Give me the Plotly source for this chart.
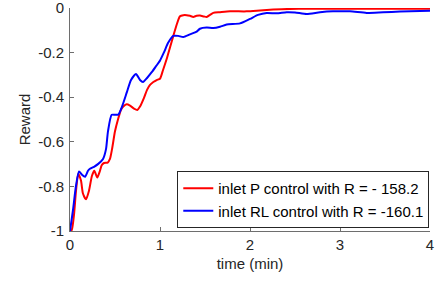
import plotly.graph_objects as go

# Time (min) and reward values
t_p = [0, 0.019, 0.044, 0.067, 0.092, 0.122, 0.144, 0.178, 0.211, 0.244, 0.27, 0.303, 0.333,
       0.352, 0.378, 0.419, 0.444, 0.467, 0.5, 0.533, 0.567, 0.592, 0.63, 0.667, 0.711, 0.748,
       0.778, 0.822, 0.856, 0.889, 0.926, 0.963, 1.0, 1.033, 1.074, 1.111, 1.148, 1.185, 1.222,
       1.259, 1.296, 1.333, 1.37, 1.407, 1.444, 1.489, 1.519, 1.556, 1.592, 1.667, 1.778, 1.963,
       2.111, 2.259, 2.444, 2.63, 3.111, 4.0]
r_p = [-1.0, -0.996, -0.929, -0.819, -0.743, -0.774, -0.832, -0.858, -0.819, -0.752, -0.730,
       -0.760, -0.730, -0.705, -0.695, -0.693, -0.677, -0.633, -0.553, -0.500, -0.456, -0.442,
       -0.432, -0.438, -0.451, -0.457, -0.442, -0.403, -0.367, -0.345, -0.332, -0.323, -0.317,
       -0.279, -0.229, -0.177, -0.125, -0.075, -0.037, -0.032, -0.032, -0.035, -0.040, -0.035,
       -0.034, -0.038, -0.040, -0.031, -0.022, -0.019, -0.015, -0.015, -0.011, -0.007, -0.004,
       -0.003, -0.003, -0.003]

t_rl = [0, 0.033, 0.067, 0.1, 0.133, 0.167, 0.2, 0.222, 0.267, 0.314, 0.367, 0.4, 0.422, 0.463,
        0.5, 0.537, 0.578, 0.633, 0.678, 0.733, 0.778, 0.811, 0.856, 0.908, 0.956, 1.0, 1.044,
        1.092, 1.148, 1.203, 1.259, 1.333, 1.408, 1.444, 1.519, 1.592, 1.667, 1.741, 1.889, 2.0,
        2.089, 2.185, 2.296, 2.407, 2.5, 2.63, 2.778, 2.922, 3.111, 3.296, 3.478, 3.667, 4.0]
r_rl = [-1.0, -0.907, -0.796, -0.733, -0.748, -0.757, -0.730, -0.721, -0.712, -0.699, -0.677,
        -0.633, -0.553, -0.479, -0.479, -0.478, -0.442, -0.376, -0.323, -0.296, -0.323, -0.332,
        -0.314, -0.288, -0.261, -0.236, -0.199, -0.155, -0.125, -0.125, -0.130, -0.118, -0.106,
        -0.093, -0.088, -0.090, -0.084, -0.074, -0.069, -0.049, -0.031, -0.022, -0.024, -0.019,
        -0.020, -0.027, -0.019, -0.015, -0.015, -0.022, -0.019, -0.016, -0.012]

x_ticks = [0, 1, 2, 3, 4]
x_ticktext = ["0", "1", "2", "3", "4"]
y_ticks = [-1, -0.8, -0.6, -0.4, -0.2, 0]
y_ticktext = ["-1", "-0.8", "-0.6", "-0.4", "-0.2", "0"]

label_p = "inlet P control with R = - 158.2"
label_rl = "inlet RL control with R = -160.1"

FONT = "Liberation Sans, Arial, Helvetica, sans-serif"
AX = "#262626"

fig = go.Figure()
fig.add_trace(go.Scatter(x=t_p, y=r_p, mode="lines", name=label_p,
                         line=dict(color="#ff0000", width=2, shape="spline", smoothing=0.6)))
fig.add_trace(go.Scatter(x=t_rl, y=r_rl, mode="lines", name=label_rl,
                         line=dict(color="#0000ff", width=2, shape="spline", smoothing=0.6)))

fig.update_layout(
    width=443, height=283,
    margin=dict(l=70, r=13, t=8, b=52, autoexpand=False),
    paper_bgcolor="white", plot_bgcolor="white",
    font=dict(family=FONT, size=15, color=AX),
    showlegend=True,
    legend=dict(x=0.998, y=0.013, xanchor="right", yanchor="bottom",
                bgcolor="white", bordercolor="#262626", borderwidth=1,
                font=dict(family=FONT, size=15, color="black"),
                itemwidth=30, tracegroupgap=0),
    xaxis=dict(range=[0, 4], tickvals=x_ticks, ticktext=x_ticktext, automargin=False,
               showgrid=False, zeroline=False, showline=True, linecolor="#6e6e6e",
               linewidth=1, ticks="inside", ticklen=4, tickcolor="#6e6e6e",
               ticklabeloverflow="allow",
               title=dict(text="time (min)", standoff=6, font=dict(size=15))),
    yaxis=dict(range=[-1, 0], tickvals=y_ticks, ticktext=y_ticktext, automargin=False,
               showgrid=False, zeroline=False, showline=True, linecolor="#6e6e6e",
               linewidth=1, ticks="inside", ticklen=4, tickcolor="#6e6e6e",
               ticklabelstandoff=2, ticklabeloverflow="allow",
               title=dict(text="Reward", standoff=3, font=dict(size=15))),
)

fig.write_html("out.html", config={"displayModeBar": False},
               post_script="document.body.style.margin='0px';")
